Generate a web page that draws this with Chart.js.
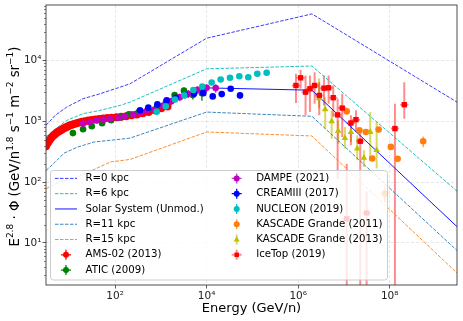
<!DOCTYPE html>
<html>
<head>
<meta charset="utf-8">
<script src="https://cdn.jsdelivr.net/npm/chart.js@4.4.1/dist/chart.umd.min.js"></script>
<style>
  html, body { margin: 0; padding: 0; background: #fff; }
  canvas { display: block; }
</style>
</head>
<body>
<canvas id="chart" width="463" height="321" style="width:463px;height:321px"></canvas>
<script>
// axis ranges and tick labels
const xRange = [3.1, 2.95e9];
const yRange = [2.03, 8.2e4];
const xTicks = [1e2, 1e4, 1e6, 1e8];
const yTicks = [1e1, 1e2, 1e3, 1e4];

// propagation models (GeV/n, E^2.8 flux)
const r0E = [3.1, 4.9, 8.8, 20, 47, 129, 213, 1e4, 2e6, 2.95e9];
const r0F = [860, 1250, 1716, 2355, 2845, 3650, 4150, 23300, 58500, 2070];
const r6E = [3.1, 4.9, 8.8, 20, 47, 129, 213, 1e4, 2e6, 2.95e9];
const r6F = [553, 740, 1038, 1337, 1515, 1828, 2070, 7310, 8130, 71];
const solarE = [3.1, 5, 8.5, 13, 20, 47, 100, 213, 500, 1300, 3000, 6000, 1e4, 2e6, 2.95e9];
const solarF = [420, 620, 790, 880, 960, 1090, 1160, 1250, 1420, 1800, 2500, 3020, 3550, 3250, 18.5];
const r11E = [3.1, 4.9, 7.7, 15, 35, 100, 213, 1e4, 2e6, 2.95e9];
const r11F = [155, 213, 300, 375, 458, 497, 530, 1420, 1210, 7.5];
const r15E = [3.1, 6, 15, 80, 213, 1e4, 2e6, 2.95e9];
const r15F = [78, 100, 121, 215, 236, 668, 574, 3.2];

// measurements
const amsE = [3.1, 3.4, 3.7, 4.0, 4.4, 4.8, 5.2, 5.7, 6.2, 6.8, 7.5, 8.3, 9.2, 10.2, 11.4, 12.8, 14.5, 16.5, 19, 22, 26, 31, 37, 45, 55, 68, 85, 107, 136, 175, 230, 300, 400, 540, 740, 1020, 1400];
const amsF = [390, 440, 490, 530, 575, 610, 640, 673, 700, 730, 760, 790, 820, 850, 880, 905, 930, 955, 980, 1005, 1030, 1055, 1075, 1095, 1115, 1130, 1150, 1165, 1185, 1215, 1255, 1300, 1360, 1430, 1520, 1640, 1760];

const aticE = [12, 20, 31, 52, 82, 130, 200, 330, 520, 830, 1300, 2000, 3200, 5000, 7900];
const aticF = [640, 740, 830, 930, 1040, 1160, 1300, 1420, 1550, 1750, 2100, 2700, 3200, 2700, 2900];
const aticErr = [0.04, 0.04, 0.04, 0.04, 0.05, 0.05, 0.05, 0.06, 0.06, 0.07, 0.08, 0.1, 0.12, 0.15, 0.25];

const dampeE = [20, 28, 40, 56, 78, 118, 165, 251, 351, 492, 747, 1100, 1700, 2600, 4000, 6300, 10000, 15800];
const dampeF = [917, 975, 1038, 1066, 1091, 1150, 1208, 1288, 1368, 1476, 1515, 1800, 2150, 2500, 2850, 3300, 3560, 3520];
const dampeErr = [0.12, 0.12, 0.12, 0.12, 0.12, 0.12, 0.12, 0.12, 0.12, 0.12, 0.13, 0.13, 0.14, 0.14, 0.15, 0.15, 0.16, 0.16];

const creamE = [351, 533, 840, 1345, 2115, 3376, 5310, 8470, 13600, 21400, 33600, 53600];
const creamF = [1515, 1678, 1900, 2208, 2446, 2717, 2845, 2911, 2570, 2806, 3435, 2670];
const creamErr = [0.03, 0.03, 0.03, 0.03, 0.04, 0.04, 0.05, 0.05, 0.06, 0.07, 0.08, 0.12];

const nucleonE = [813, 1280, 2040, 3260, 5130, 8050, 12900, 20300, 32400, 51800, 81300, 128000, 205000];
const nucleonF = [1440, 1763, 2290, 2670, 3280, 3750, 4360, 4880, 5200, 5530, 5320, 6050, 6290];

const kg11E = [1.15e7, 2.18e7, 3.02e7, 4.15e7, 5.73e7, 7.85e7, 1.06e8, 1.49e8, 5.38e8];
const kg11F = [1458, 711, 668, 245, 731, 65, 380, 243, 470];
const kg11Err = [0.05, 0.05, 0.05, 0.06, 0.06, 0.3, 0.06, 0.07, 0.2];

const kg13E = [2.85e6, 3.89e6, 5.39e6, 7.5e6, 1.05e7, 1.42e7, 1.95e7, 2.73e7, 3.75e7, 5.18e7];
const kg13F = [2380, 1573, 1000, 698, 532, 668, 357, 251, 668, 335];
const kg13Lo = [1635, 759, 520, 431, 357, 458, 229, 178, 229, 168];
const kg13Hi = [5070, 2500, 1515, 1038, 806, 1038, 590, 335, 1420, 977];

const icetopE = [8.96e5, 1.13e6, 1.45e6, 1.81e6, 2.29e6, 2.89e6, 3.66e6, 4.63e6, 5.84e6, 7.28e6, 9.18e6, 1.15e7, 1.42e7, 1.83e7, 2.27e7, 3.13e7, 1.3e8, 2.08e8];
const icetopF = [3890, 5200, 3020, 3435, 3890, 2670, 3515, 3565, 2450, 1278, 1653, 25, 938, 1066, 470, 31, 760, 1880];
const icetopLo = [2000, 3430, 1254, 1420, 1950, 1254, 1828, 1950, 1177, 112, 553, 0.5, 404, 668, 0.5, 0.5, 0.5, 1107];
const icetopHi = [6050, 7050, 5680, 5680, 6420, 4410, 5680, 5680, 3890, 2355, 2845, 200, 1254, 1515, 711, 70, 1950, 4400];

const pts = (xs, ys) => xs.map((v, i) => ({ x: v, y: ys[i] }));
const relLo = (ys, r) => ys.map((v, i) => v * (1 - r[i]));
const relHi = (ys, r) => ys.map((v, i) => v * (1 + r[i]));

const modelLine = (label, xs, ys, color, dash, order) => ({
  label, data: pts(xs, ys), showLine: true, borderColor: color, borderWidth: 1,
  borderDash: dash, pointRadius: 0, order
});

const datasets = [
  modelLine('R=0 kpc', r0E, r0F, '#3b3bff', [3.5, 1.5], 20),
  modelLine('R=6 kpc', r6E, r6F, '#1fc0c0', [3.5, 1.5], 20),
  modelLine('Solar System (Unmod.)', solarE, solarF, '#1414ff', [], 20),
  modelLine('R=11 kpc', r11E, r11F, '#3a86c0', [3.5, 1.5], 20),
  modelLine('R=15 kpc', r15E, r15F, '#ff8c2a', [3.5, 1.5], 20),
  { label: 'AMS-02 (2013)', data: pts(amsE, amsF), backgroundColor: '#ff0000', borderWidth: 0,
    pointRadius: 4, order: 8, errColor: '#ff0000' },
  { label: 'ATIC (2009)', data: pts(aticE, aticF), backgroundColor: '#008000', borderWidth: 0,
    pointRadius: 3.3, order: 7, yLo: relLo(aticF, aticErr), yHi: relHi(aticF, aticErr), errColor: '#008000' },
  { label: 'DAMPE (2021)', data: pts(dampeE, dampeF), backgroundColor: '#bf00bf', borderWidth: 0,
    pointRadius: 3.3, order: 6, yLo: relLo(dampeF, dampeErr), yHi: relHi(dampeF, dampeErr), xErr: 0.05, errColor: '#c040c0' },
  { label: 'CREAMIII (2017)', data: pts(creamE, creamF), backgroundColor: '#0000ff', borderWidth: 0,
    pointRadius: 3.3, order: 5, yLo: relLo(creamF, creamErr), yHi: relHi(creamF, creamErr), errColor: '#0000ff' },
  { label: 'NUCLEON (2019)', data: pts(nucleonE, nucleonF), backgroundColor: '#00bfbf', borderWidth: 0,
    pointRadius: 3.3, order: 4, errColor: '#00bfbf', legendV: true },
  { label: 'KASCADE Grande (2011)', data: pts(kg11E, kg11F), backgroundColor: '#ff7f0e', borderWidth: 0,
    pointRadius: 3.3, order: 3, yLo: relLo(kg11F, kg11Err), yHi: relHi(kg11F, kg11Err), errColor: '#ff9a40', legendV: true },
  { label: 'KASCADE Grande (2013)', data: pts(kg13E, kg13F), backgroundColor: '#bfbf00', borderWidth: 0,
    pointStyle: 'triangle', pointRadius: 3.8, order: 2, yLo: kg13Lo, yHi: kg13Hi,
    errColor: 'rgba(191,191,0,0.6)', errWidth: 2, legendV: true },
  { label: 'IceTop (2019)', data: pts(icetopE, icetopF), backgroundColor: '#ff0000', borderWidth: 0,
    pointStyle: 'rect', pointRadius: 3.8, order: 1, yLo: icetopLo, yHi: icetopHi, xErr: 0.09,
    errColor: 'rgba(255,0,0,0.45)', errWidth: 2 }
];

const supDigits = s => s.replace(/[0-9-]/g, c => c === '-' ? '⁻' : '⁰¹²³⁴⁵⁶⁷⁸⁹'[+c]);
const powLabel = v => '10' + supDigits(String(Math.round(Math.log10(v))));

// error bars through the chart scales
const errorBars = {
  id: 'errorBars',
  beforeDatasetsDraw(chart) {
    const { ctx, chartArea: a } = chart;
    const xs = chart.scales.x, ys = chart.scales.y;
    ctx.save();
    ctx.beginPath();
    ctx.rect(a.left, a.top, a.width, a.height);
    ctx.clip();
    chart.data.datasets.forEach(ds => {
      if (!ds.yLo && !ds.xErr) return;
      ctx.strokeStyle = ds.errColor;
      ctx.lineWidth = ds.errWidth || 1.3;
      ds.data.forEach((p, i) => {
        const px = xs.getPixelForValue(p.x);
        const py = ys.getPixelForValue(p.y);
        ctx.beginPath();
        if (ds.yLo) {
          ctx.moveTo(px, ys.getPixelForValue(ds.yLo[i]));
          ctx.lineTo(px, ys.getPixelForValue(ds.yHi[i]));
        }
        if (ds.xErr) {
          ctx.moveTo(xs.getPixelForValue(p.x / Math.pow(10, ds.xErr)), py);
          ctx.lineTo(xs.getPixelForValue(p.x * Math.pow(10, ds.xErr)), py);
        }
        ctx.stroke();
      });
    });
    ctx.restore();
  }
};

function marker(ctx, style, x, y, r) {
  ctx.beginPath();
  if (style === 'triangle') {
    ctx.moveTo(x, y - r * 1.1);
    ctx.lineTo(x + r, y + r * 0.7);
    ctx.lineTo(x - r, y + r * 0.7);
    ctx.closePath();
  } else if (style === 'rect') {
    const s = r * 0.75;
    ctx.rect(x - s, y - s, 2 * s, 2 * s);
  } else {
    ctx.arc(x, y, r, 0, Math.PI * 2);
  }
  ctx.fill();
}

function richText(ctx, parts, size, x, y, rot) {
  ctx.save();
  ctx.translate(x, y);
  ctx.rotate(rot);
  const big = size + 'px "DejaVu Sans"', small = Math.round(size * 0.7) + 'px "DejaVu Sans"';
  let total = 0;
  parts.forEach(([t, s]) => { ctx.font = s ? small : big; total += ctx.measureText(t).width; });
  let cx = -total / 2;
  ctx.textBaseline = 'alphabetic';
  ctx.textAlign = 'left';
  parts.forEach(([t, s]) => {
    ctx.font = s ? small : big;
    ctx.fillText(t, cx, s ? -size * 0.42 : 0);
    cx += ctx.measureText(t).width;
  });
  ctx.restore();
}

const decorations = {
  id: 'decorations',
  afterDatasetsDraw(chart) {
    const { ctx, chartArea: a } = chart;
    const ys = chart.scales.y;
    ctx.save();
    // minor ticks on y
    ctx.strokeStyle = '#333';
    ctx.lineWidth = 0.6;
    for (let n = 0; n <= 4; n++) {
      for (let m = 2; m <= 9; m++) {
        const v = m * Math.pow(10, n);
        if (v < yRange[0] || v > yRange[1]) continue;
        const py = Math.round(ys.getPixelForValue(v)) + 0.5;
        ctx.beginPath();
        ctx.moveTo(a.left, py);
        ctx.lineTo(a.left - 2, py);
        ctx.stroke();
      }
    }
    // frame
    ctx.strokeStyle = '#3a3a3a';
    ctx.lineWidth = 0.9;
    ctx.strokeRect(a.left, a.top, a.width, a.height);
    ctx.restore();
  },
  afterDraw(chart) {
    const { ctx, chartArea: a } = chart;
    ctx.save();
    ctx.fillStyle = '#000';
    richText(ctx, [['Energy (GeV/n)', 0]], 13, (a.left + a.right) / 2, 312, 0);
    richText(ctx, [['E', 0], ['2.8', 1], [' · Φ (GeV/n', 0], ['1.8', 1], [' s', 0], ['−1', 1],
      [' m', 0], ['−2', 1], [' sr', 0], ['−1', 1], [')', 0]], 13.3, 18.5, 146.5, -Math.PI / 2);

    // legend
    const bx = 50.5, by = 170.5, bw = 337, bh = 109.5, rr = 3;
    ctx.beginPath();
    ctx.moveTo(bx + rr, by);
    ctx.arcTo(bx + bw, by, bx + bw, by + bh, rr);
    ctx.arcTo(bx + bw, by + bh, bx, by + bh, rr);
    ctx.arcTo(bx, by + bh, bx, by, rr);
    ctx.arcTo(bx, by, bx + bw, by, rr);
    ctx.closePath();
    ctx.fillStyle = 'rgba(255,255,255,0.8)';
    ctx.fill();
    ctx.strokeStyle = '#cccccc';
    ctx.lineWidth = 1;
    ctx.stroke();

    ctx.font = '10.2px "DejaVu Sans"';
    ctx.textBaseline = 'middle';
    ctx.textAlign = 'left';
    chart.data.datasets.forEach((ds, i) => {
      const col = i < 7 ? 0 : 1;
      const row = col ? i - 7 : i;
      const y = 178.4 + row * 15.28;
      const hx = 55 + col * 170.7;
      const cx = hx + 11;
      if (ds.showLine) {
        ctx.save();
        ctx.strokeStyle = ds.borderColor;
        ctx.lineWidth = 1;
        ctx.setLineDash(ds.borderDash);
        ctx.beginPath();
        ctx.moveTo(hx, y);
        ctx.lineTo(hx + 22, y);
        ctx.stroke();
        ctx.restore();
      } else {
        ctx.strokeStyle = ds.errColor;
        ctx.lineWidth = ds.errWidth || 1.3;
        ctx.beginPath();
        ctx.moveTo(cx, y - 5);
        ctx.lineTo(cx, y + 5);
        if (!ds.legendV) {
          ctx.moveTo(cx - 5, y);
          ctx.lineTo(cx + 5, y);
        }
        ctx.stroke();
        ctx.fillStyle = ds.backgroundColor;
        marker(ctx, ds.pointStyle || 'circle', cx, y, 3);
      }
      ctx.fillStyle = '#000';
      ctx.fillText(ds.label, hx + 30.5, y);
    });
    ctx.restore();
  }
};

const tickFont = { family: 'DejaVu Sans', size: 10.5 };
const gridOpts = { color: 'rgba(0,0,0,0.12)', lineWidth: 0.8, tickLength: 3.5, tickColor: '#333', tickWidth: 0.8 };

new Chart(document.getElementById('chart').getContext('2d'), {
  type: 'scatter',
  data: { datasets },
  options: {
    responsive: false,
    animation: false,
    layout: { padding: { top: 5, right: 6, left: 0, bottom: 0 } },
    plugins: { legend: { display: false }, tooltip: { enabled: false } },
    scales: {
      x: {
        type: 'logarithmic', min: xRange[0], max: xRange[1],
        afterBuildTicks: s => { s.ticks = xTicks.map(v => ({ value: v })); },
        afterFit: s => { s.height = 36; s.paddingLeft = 0; s.paddingRight = 0; },
        ticks: { callback: powLabel, font: tickFont, color: '#222', maxRotation: 0, padding: 1 },
        grid: gridOpts,
        border: { display: false, dash: [3, 2] }
      },
      y: {
        type: 'logarithmic', min: yRange[0], max: yRange[1],
        afterBuildTicks: s => { s.ticks = yTicks.map(v => ({ value: v })); },
        afterFit: s => { s.width = 46; s.paddingTop = 0; s.paddingBottom = 0; },
        ticks: { callback: powLabel, font: tickFont, color: '#222', padding: 1 },
        grid: gridOpts,
        border: { display: false, dash: [3, 2] }
      }
    }
  },
  plugins: [errorBars, decorations]
});
</script>
</body>
</html>
